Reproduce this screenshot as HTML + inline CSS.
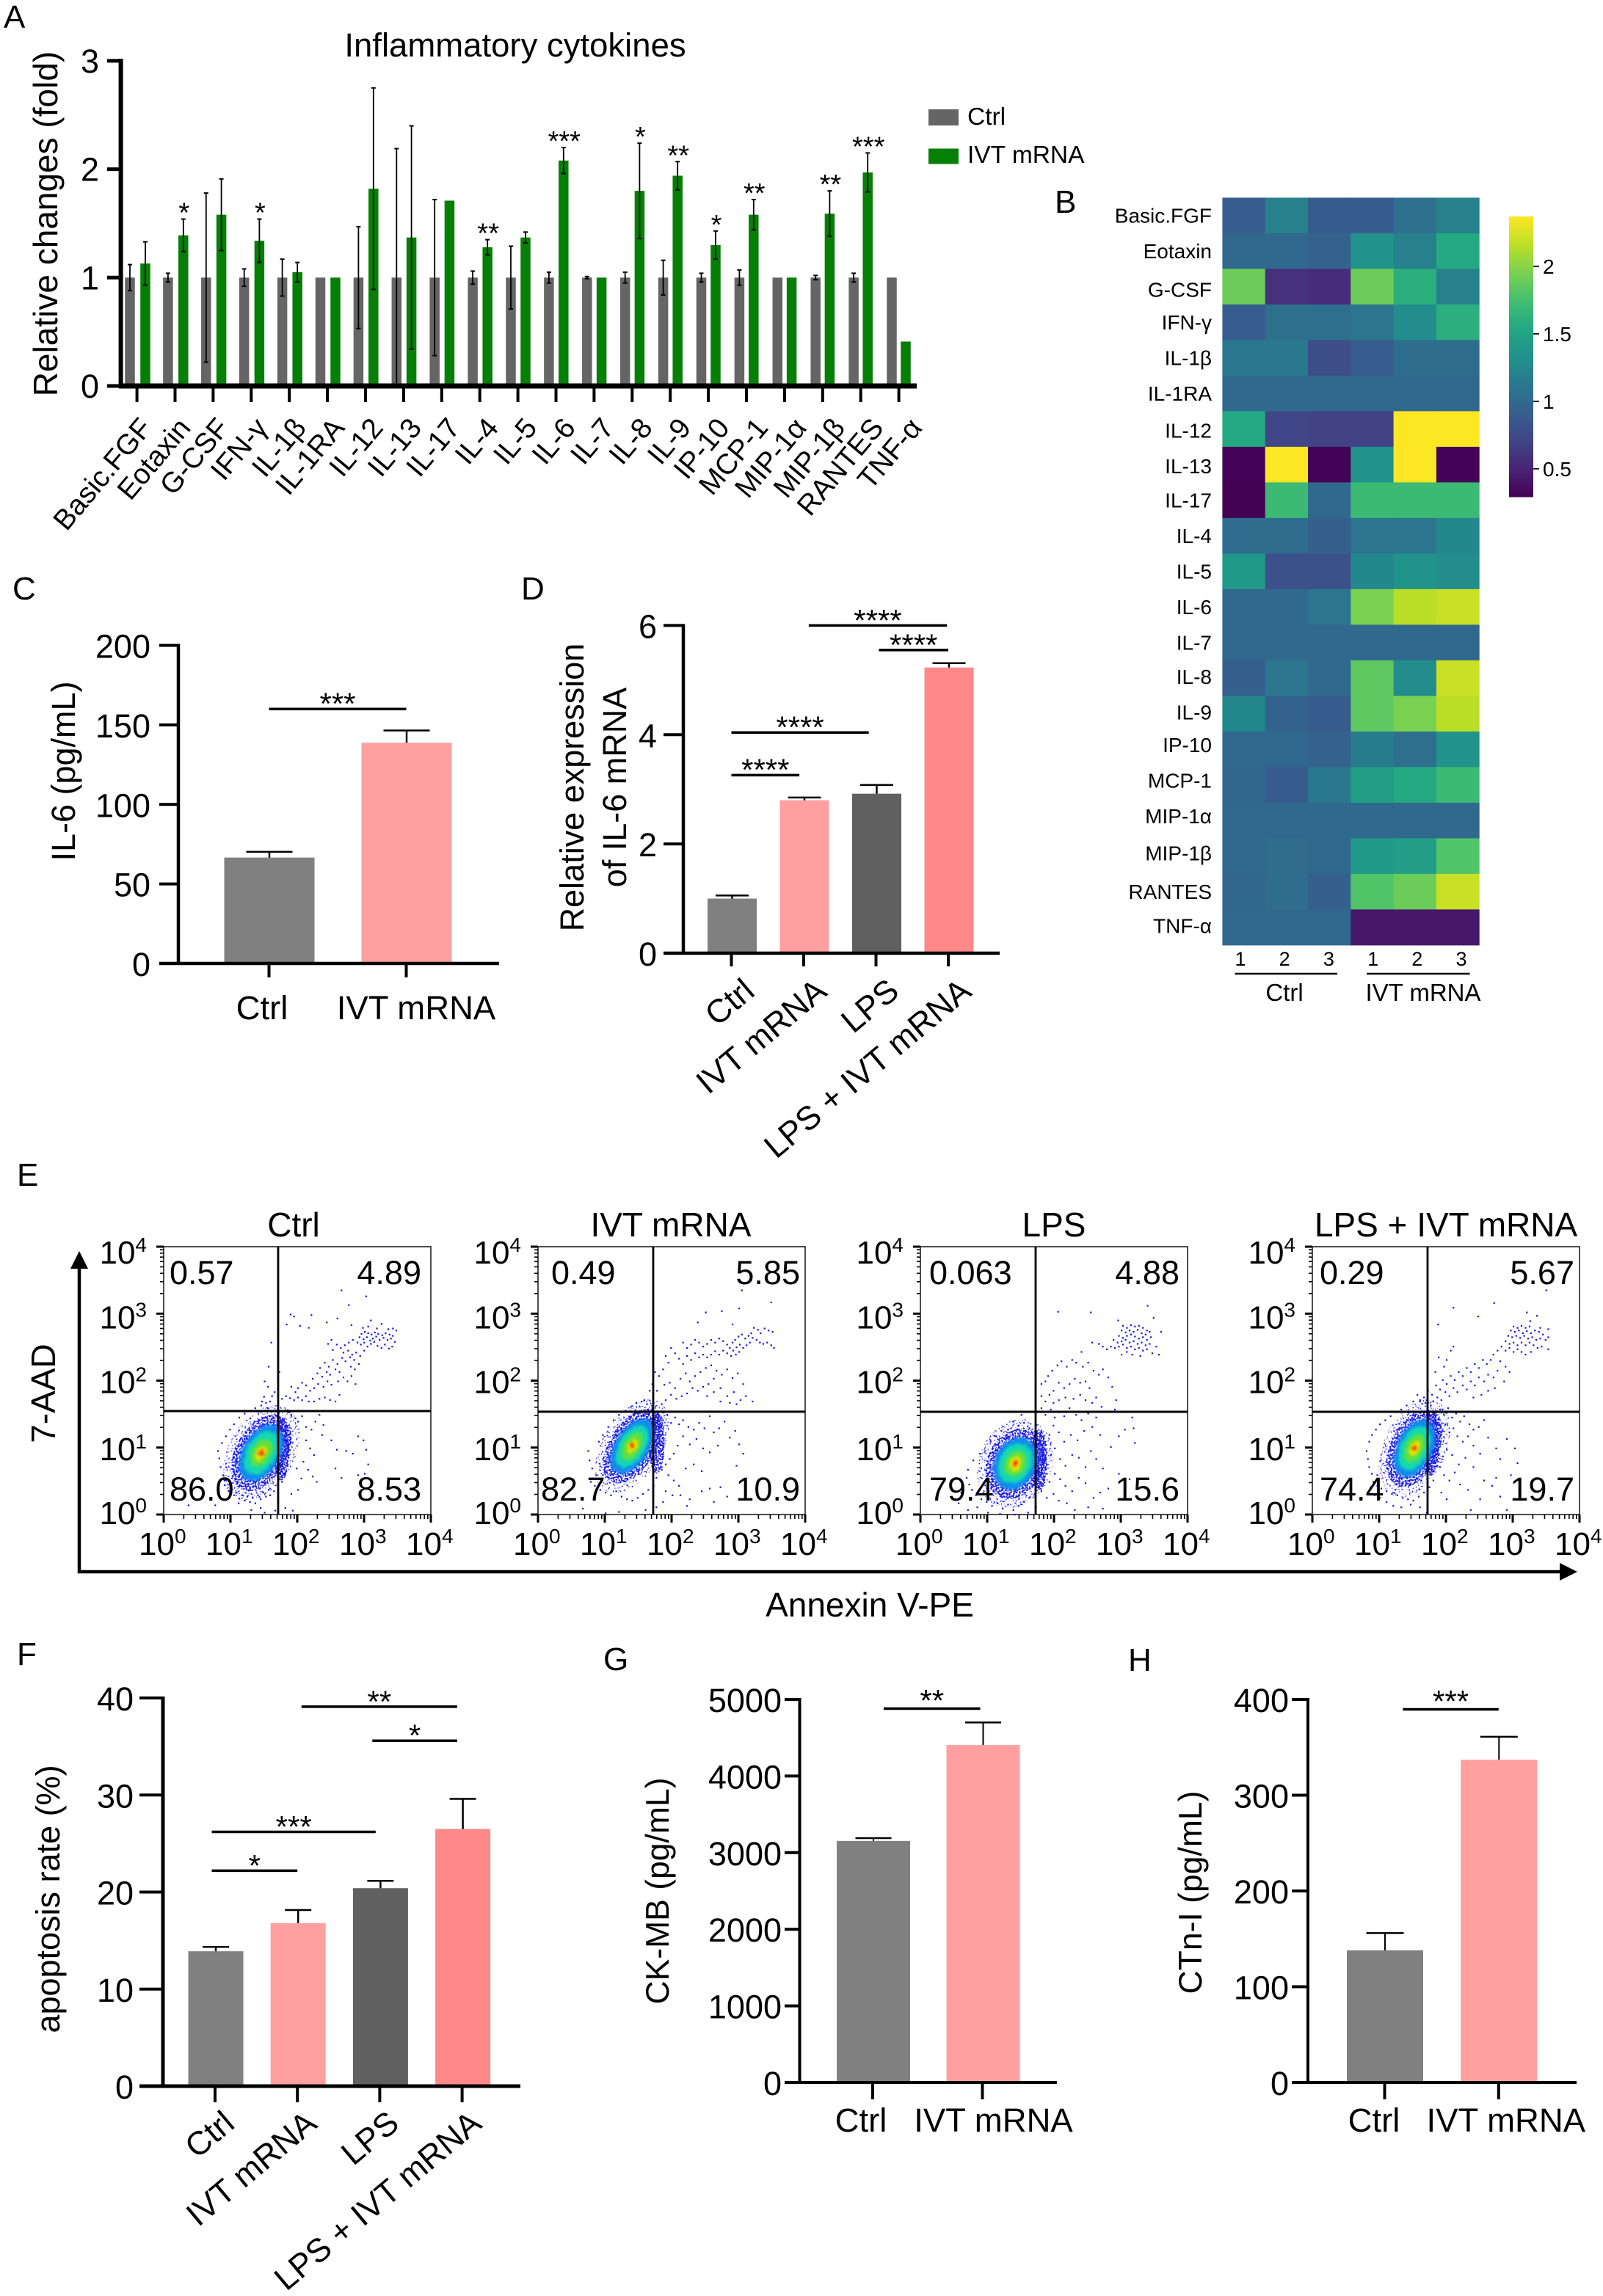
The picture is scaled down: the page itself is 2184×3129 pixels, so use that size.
<!DOCTYPE html>
<html lang="en">
<head>
<meta charset="utf-8">
<title>Inflammatory cytokine figure panels</title>
<style>
html,body{margin:0;padding:0;background:#fff;}
svg{display:block;font-family:"Liberation Sans","DejaVu Sans",sans-serif;}
</style>
</head>
<body>
<svg id="figure" xmlns="http://www.w3.org/2000/svg" width="2184" height="3129" viewBox="0 0 2184 3129"></svg>
<script>
/* ---------- Panel A data ---------- */
const aCategories = ['Basic.FGF','Eotaxin','G-CSF','IFN-γ','IL-1β','IL-1RA','IL-12','IL-13','IL-17','IL-4','IL-5','IL-6','IL-7','IL-8','IL-9','IP-10','MCP-1','MIP-1α','MIP-1β','RANTES','TNF-α'];
const aCtrlValues = [1,1,1,1,1,1,1,1,1,1,1,1,1,1,1,1,1,1,1,1,1];
const aCtrlErrors = [0.12,0.04,0.78,0.08,0.17,0,0.47,1.19,0.72,0.06,0.29,0.05,0.01,0.05,0.16,0.04,0.07,0,0.02,0.04,0];
const aIvtValues = [1.13,1.39,1.58,1.34,1.05,1,1.82,1.37,1.71,1.28,1.37,2.08,1,1.8,1.94,1.3,1.58,1,1.59,1.97,0.41];
const aIvtErrors = [0.2,0.15,0.33,0.2,0.09,0,0.93,1.03,0,0.07,0.05,0.12,0,0.44,0.13,0.13,0.14,0,0.21,0.18,0];
const aStars = ['','*','','*','','','','','','**','','***','','*','**','*','**','','**','***',''];
const aTicks = [0,1,2,3];

/* ---------- Panel B data ---------- */
const bRows = ['Basic.FGF','Eotaxin','G-CSF','IFN-γ','IL-1β','IL-1RA','IL-12','IL-13','IL-17','IL-4','IL-5','IL-6','IL-7','IL-8','IL-9','IP-10','MCP-1','MIP-1α','MIP-1β','RANTES','TNF-α'];
const bColumns = ['1','2','3','1','2','3'];
const bValues = [
[0.9,1.2,0.88,0.88,1.05,1.2],
[1.0,1.0,0.95,1.35,1.2,1.55],
[1.9,0.58,0.55,1.9,1.6,1.2],
[0.9,1.05,1.05,1.1,1.3,1.6],
[1.12,1.12,0.78,0.9,1.03,1.03],
[1,1,1,1,1,1],
[1.55,0.72,0.7,0.7,2.37,2.37],
[0.3,2.37,0.3,1.35,2.37,0.3],
[0.29,1.7,1,1.7,1.7,1.7],
[1.02,1.02,0.92,1.1,1.1,1.25],
[1.4,0.8,0.8,1.25,1.35,1.3],
[1,1,1.1,1.95,2.15,2.2],
[1,1,1,1,1,1],
[0.92,1.1,1,1.85,1.3,2.2],
[1.25,0.95,0.88,1.85,1.95,2.15],
[1,1,0.95,1.15,1.05,1.35],
[0.98,0.88,1.12,1.45,1.55,1.7],
[1,1,1,1,1,1],
[1,1.02,1,1.4,1.45,1.8],
[0.98,1.02,0.92,1.8,1.9,2.2],
[1,1,1,0.42,0.42,0.42]
];
const bScaleTicks = [0.5,1,1.5,2];
const viridisStops = ['#440154','#482475','#414487','#355f8d','#2a788e','#21918c','#22a884','#44bf70','#7ad151','#bddf26','#fde725'];

/* ---------- Panel C data ---------- */
const cCategories = ['Ctrl','IVT mRNA'];
const cValues = [66.6,138.8];
const cErrors = [3.6,7.7];
const cTicks = [0,50,100,150,200];
const cSigFrom = [0];
const cSigTo = [1];
const cSigLevel = [160];
const cSigLabel = ['***'];

/* ---------- Panel D data ---------- */
const dCategories = ['Ctrl','IVT mRNA','LPS','LPS + IVT mRNA'];
const dValues = [1.0,2.8,2.92,5.23];
const dErrors = [0.056,0.05,0.16,0.08];
const dTicks = [0,2,4,6];
const dSigFrom = [0,0,1.07,2.04];
const dSigTo = [0.94,1.9,2.98,3];
const dSigLevel = [3.26,4.04,6,5.55];
const dSigLabel = ['****','****','****','****'];

/* ---------- Panel E data (decades of log10 axes, ×100) ---------- */
const flowTitles = ['Ctrl','IVT mRNA','LPS','LPS + IVT mRNA'];
const flowUpperLeft = ['0.57','0.49','0.063','0.29'];
const flowUpperRight = ['4.89','5.85','4.88','5.67'];
const flowLowerLeft = ['86.0','82.7','79.4','74.4'];
const flowLowerRight = ['8.53','10.9','15.6','19.7'];
const flowGateX = [1.714,1.725,1.725,1.725];
const flowGateY = [1.545,1.535,1.534,1.534];
const flowBlobX = [1.46,1.41,1.42,1.53];
const flowBlobY = [0.92,1.02,0.76,0.99];
const flowBlobMajor = [0.62,0.62,0.55,0.62];
const flowBlobMinor = [0.38,0.34,0.42,0.36];
const flowBlobAngle = [60,58,65,65];
const flowTickDecades = [0,1,2,3,4];
const flowCtrlDots = [265,336,302,327,276,314,189,300,194,297,220,299,259,294,243,288,309,291,325,286,183,285,203,283,216,280,280,284,297,280,305,282,318,279,335,278,342,279,347,276,
295,271,300,274,305,272,310,270,315,273,320,271,326,269,331,272,337,270,342,268,292,266,298,263,303,266,308,261,312,264,317,267,322,262,328,265,334,262,339,264,345,259,289,258,294,255,299,258,304,252,309,256,314,259,319,253,325,250,330,255,336,249,341,252,
282,262,276,258,270,254,264,250,258,255,250,262,245,256,252,247,268,243,275,246,281,240,287,243,293,238,299,246,284,232,278,236,271,230,266,235,259,226,252,232,246,222,240,228,233,220,279,222,285,218,291,226,262,214,256,218,248,210,243,214,236,207,229,212,222,204,268,206,274,200,280,208,286,196,260,200,250,195,244,200,238,192,230,196,224,190,218,186,212,194,206,198,200,190,196,184,190,192,172,214,170,190,165,184,161,178,155,192,150,200,149,177,146,170,152,168,158,170,170,172,176,174,182,178,188,175,194,172,200,176,206,172,212,178,216,170,224,170,232,174,240,176,248,172,256,170,262,180,
190,150,196,145,200,140,206,148,212,132,220,128,226,140,232,150,238,135,212,112,218,100,224,90,236,120,250,112,258,98,272,96,282,92,256,70,265,56,290,60,300,62,290,118,298,112,302,98,305,76,208,80,215,68,222,58,228,50,205,55,200,38,190,32,198,70,160,258,156,222,
90,45,96,36,104,30,112,25,120,22,128,20,136,18,144,24,152,28,88,60,84,72,92,52,100,42,108,34,116,30,124,28,132,26,140,30,148,34,156,38,82,85,80,96,86,108,92,118,98,128,104,136,112,146,120,152,128,156,136,160,145,164,155,160,165,155,172,146,176,130,180,118,184,104,186,90,184,74,180,62,176,50,170,44,164,36,158,30,36,15,76,15,111,18,144,11,166,7,181,11,192,7,150,4,130,8];
const flowIvtDots = [304,336,348,318,300,309,274,305,250,303,238,288,290,285,
322,280,328,277,332,272,338,279,344,276,350,274,318,272,314,268,309,264,304,270,299,267,294,262,290,258,320,265,326,262,331,258,336,256,342,258,348,254,352,250,316,258,311,254,306,250,301,255,296,251,291,246,286,250,282,255,276,260,270,264,264,258,258,262,252,256,246,252,240,258,234,262,228,255,222,250,216,258,300,244,295,240,288,238,282,242,276,246,270,240,264,245,258,240,252,236,246,240,240,236,234,242,228,232,222,238,216,226,210,234,204,242,198,250,194,228,190,238,186,218,180,208,174,214,170,196,166,186,177,186,188,195,196,198,204,190,212,204,220,212,226,200,234,208,242,214,250,220,258,224,266,216,274,210,282,218,290,205,298,212,306,196,262,204,254,196,246,192,238,186,230,190,222,182,214,178,206,174,198,180,190,172,184,166,252,178,262,184,272,190,282,178,292,184,302,172,310,178,320,170,296,166,286,168,272,170,
180,148,186,142,192,150,198,138,204,146,210,136,216,142,224,132,232,128,240,138,248,130,256,148,262,124,270,130,278,140,286,116,294,126,300,106,306,92,268,104,256,94,246,100,236,114,226,106,216,118,208,104,202,92,196,84,190,76,184,68,194,60,202,52,210,44,220,70,232,76,244,66,256,40,272,42,282,28,262,20,244,36,226,24,212,30,200,30,190,36,186,20,222,14,296,74,
86,60,80,70,76,82,74,96,78,50,84,44,92,38,100,34,108,30,116,36,124,28,132,24,140,22,148,26,156,32,164,38,172,44,176,56,96,60,90,110,96,120,104,132,112,142,120,150,130,156,138,162,146,168,154,170,162,166,170,160,176,150,180,136,184,120,186,104,186,88,184,72,158,172,142,150,66,10,100,3,120,5,160,8,176,12,140,60];
const flowLpsDots = [205,304,254,303,339,313,348,295,295,291,359,274,
302,283,308,280,314,284,320,282,326,283,332,280,338,276,300,276,306,273,312,276,318,274,324,277,330,272,336,270,342,274,296,268,302,265,308,268,314,270,320,267,326,264,332,266,338,262,344,266,288,262,294,258,300,260,306,262,312,258,318,260,324,256,330,258,336,254,342,256,352,252,284,252,290,250,296,252,302,255,308,250,314,252,320,248,326,250,332,246,338,248,346,242,356,240,278,248,272,252,266,256,256,258,300,240,308,244,316,240,328,238,
240,244,232,228,226,232,218,222,210,230,204,224,196,216,190,208,186,200,180,196,242,222,250,228,258,216,266,210,272,218,280,206,246,200,252,190,238,198,230,204,222,196,214,190,206,198,198,186,192,180,186,170,180,178,198,168,206,172,216,176,228,174,238,180,246,172,256,168,262,176,286,192,292,172,
180,160,186,150,194,158,200,146,206,154,214,148,222,160,232,150,240,142,250,152,262,146,270,162,290,158,302,154,316,146,318,130,320,108,305,128,296,118,284,102,268,120,256,132,244,126,234,112,224,120,214,110,206,124,198,134,192,120,186,110,180,124,176,100,182,88,188,76,194,90,200,100,208,84,216,74,226,90,236,86,246,72,254,96,262,84,272,70,184,58,192,50,200,62,208,54,216,44,226,36,236,56,246,48,258,26,268,34,280,40,296,62,312,54,180,36,188,26,198,32,206,22,218,18,230,8,250,12,272,10,
72,46,68,56,70,68,76,38,82,30,90,24,98,20,106,14,114,18,122,10,130,16,138,8,146,14,154,20,162,26,170,32,176,44,178,58,180,72,170,120,162,130,154,138,146,134,138,140,130,128,120,126,112,118,104,110,96,96,88,92,78,82,60,34,56,18,70,8,84,12,100,4,118,2,140,1,160,4,172,12,150,150,144,112,176,106];
const flowLpsIvtDots = [349,336,271,317,210,310,247,297,187,285,320,303,335,298,325,290,340,280,352,278,
300,282,306,280,312,283,318,280,324,282,296,276,302,274,308,276,314,272,320,275,326,272,332,276,338,274,344,270,292,268,298,266,304,268,310,265,316,268,322,264,328,266,334,262,340,264,348,262,352,266,288,260,294,256,300,258,306,254,312,258,318,254,324,258,330,254,336,250,342,252,282,252,288,246,294,250,300,244,306,248,312,244,318,240,326,244,352,248,
276,246,270,240,266,232,260,226,254,232,248,220,242,226,236,214,230,220,224,208,218,214,212,202,206,208,200,196,194,202,190,188,184,194,178,180,172,186,166,176,160,170,156,180,280,230,288,222,294,214,276,216,270,206,262,210,256,200,248,206,242,194,236,200,230,188,224,194,216,184,210,190,204,178,198,184,192,172,186,176,180,170,172,168,252,180,262,186,272,190,240,176,286,200,200,232,206,246,210,252,196,222,188,236,183,214,
190,158,196,150,202,160,208,146,214,152,220,140,226,148,234,136,240,128,248,132,256,142,210,130,204,124,198,136,192,124,216,118,224,110,232,118,240,104,250,92,262,116,274,100,280,84,290,114,302,100,306,78,296,60,274,56,256,52,240,72,228,86,218,76,208,90,200,98,194,88,190,72,196,60,204,52,212,64,220,46,232,38,250,24,268,44,280,28,290,8,236,8,200,24,192,34,
88,62,84,72,82,84,80,96,84,110,88,120,94,128,100,136,108,142,116,148,124,154,132,158,140,164,150,170,160,172,168,168,176,164,182,152,186,138,188,122,190,106,188,90,186,74,90,50,96,44,102,40,110,36,118,32,126,30,134,26,142,24,150,22,158,28,166,34,174,42,180,52,86,42,92,30,100,26,110,20,120,14,132,12,146,16,160,12,170,4,96,60];
const flowDensityLevels = [0.74,0.57,0.37,0.2,0.08];

/* ---------- Panel F data ---------- */
const fCategories = ['Ctrl','IVT mRNA','LPS','LPS + IVT mRNA'];
const fValues = [13.9,16.8,20.4,26.5];
const fErrors = [0.45,1.35,0.75,3.1];
const fTicks = [0,10,20,30,40];
const fSigFrom = [-0.04,-0.04,1.05,1.91];
const fSigTo = [1,1.95,2.94,2.94];
const fSigLevel = [22.2,26.2,39.1,35.6];
const fSigLabel = ['*','***','**','*'];

/* ---------- Panel G data ---------- */
const gCategories = ['Ctrl','IVT mRNA'];
const gValues = [3153,4405];
const gErrors = [37,295];
const gTicks = [0,1000,2000,3000,4000,5000];
const gSigFrom = [0.1];
const gSigTo = [0.98];
const gSigLevel = [4880];
const gSigLabel = ['**'];

/* ---------- Panel H data ---------- */
const hCategories = ['Ctrl','IVT mRNA'];
const hValues = [138,337];
const hErrors = [18,24];
const hTicks = [0,100,200,300,400];
const hSigFrom = [0.16];
const hSigTo = [1];
const hSigLevel = [389.7];
const hSigLabel = ['***'];

/* ---------- Drawing helpers ---------- */
const NS = 'http://www.w3.org/2000/svg';
const root = document.getElementById('figure');

function node(tag, attrs, name, parent) {
  const el = document.createElementNS(NS, tag);
  for (const k in attrs) el.setAttribute(k, attrs[k]);
  
  
  (parent || root).appendChild(el);
  return el;
}
function group(name, parent) { return node('g', {}, name, parent); }
function line(x1, y1, x2, y2, w, name, parent, color) {
  return node('line', {x1:x1, y1:y1, x2:x2, y2:y2, stroke:color || '#000', 'stroke-width':w}, name, parent);
}
function rect(x, y, w, h, fill, name, parent) {
  return node('rect', {x:x, y:y, width:w, height:h, fill:fill}, name, parent);
}
function label(x, y, str, size, name, parent, anchor, rot) {
  const attrs = {x:x, y:y, 'font-size':size, 'text-anchor':anchor || 'start', fill:'#000'};
  if (rot) attrs.transform = 'rotate(' + rot + ' ' + x + ' ' + y + ')';
  const el = node('text', attrs, name, parent);
  el.textContent = str;
  return el;
}
function starLabel(cx, cy, str, size, name, parent) {
  return label(cx, cy + 0.58 * size, str, size, name, parent, 'middle');
}

/* Panel letters */
[['A',5,38],['B',1437,290],['C',17,817],['D',710,817],['E',23,1616],['F',23,2269],['G',822,2276],['H',1537,2277]].forEach(function (p) {
  label(p[1], p[2], p[0], 44, 'panel-letter-' + p[0].toLowerCase());
});

/* ---------- Panel A ---------- */
(function () {
  const g = group('panel-a-grouped-bar-chart');
  const y0 = 526, unit = 147.7;
  const y = function (v) { return y0 - v * unit; };
  const tickX = function (i) { return 186.6 + i * 51.9; };
  const ctrlX = function (i) { return 177 + i * 51.9; };
  const ivtX = function (i) { return 198 + i * 51.8; };
  const labelX = function (i) { return 209 + i * 52.45; };
  const barW = 13.5;
  label(702, 77, 'Inflammatory cytokines', 45.5, 'chart-title', g, 'middle');
  aCategories.forEach(function (c, i) {
    rect(ctrlX(i) - barW / 2, y(aCtrlValues[i]), barW, y0 - y(aCtrlValues[i]), '#656565', 'bar-ctrl-' + c, g);
    rect(ivtX(i) - barW / 2, y(aIvtValues[i]), barW, y0 - y(aIvtValues[i]), '#067f06', 'bar-ivt-' + c, g);
    [[ctrlX(i), aCtrlValues[i], aCtrlErrors[i]], [ivtX(i), aIvtValues[i], aIvtErrors[i]]].forEach(function (s) {
      if (s[2] > 0) {
        const lower = Math.max(0, s[1] - s[2]);
        line(s[0], y(s[1] + s[2]), s[0], y(lower), 1.8, 'error-bar', g);
        line(s[0] - 3, y(s[1] + s[2]), s[0] + 3, y(s[1] + s[2]), 2, 'error-cap', g);
        line(s[0] - 3, y(lower), s[0] + 3, y(lower), 2, 'error-cap', g);
      }
    });
    if (aStars[i]) starLabel(ivtX(i) + 1, y(aIvtValues[i] + aIvtErrors[i]) - 18, aStars[i], 38, 'significance-' + c, g);
    line(tickX(i), y0, tickX(i), 548, 4, 'x-tick', g);
    label(labelX(i), 584, c, 39, 'x-label-' + c, g, 'end', -50);
  });
  line(164.6, 80, 164.6, y0 + 3, 6, 'y-axis', g);
  line(162, y0, 1249, y0, 7, 'x-axis', g);
  aTicks.forEach(function (t) {
    line(146, y(t), 165, y(t), 5, 'y-tick', g);
    label(135, y(t) + 16, String(t), 45, 'y-tick-label-' + t, g, 'end');
  });
  label(78, 305, 'Relative changes (fold)', 46, 'y-axis-title', g, 'middle', -90);
  rect(1265, 149, 41, 22, '#656565', 'legend-swatch-ctrl', g);
  label(1318, 170, 'Ctrl', 33.5, 'legend-label-ctrl', g);
  rect(1265, 202.5, 41, 21, '#067f06', 'legend-swatch-ivt', g);
  label(1318, 222, 'IVT mRNA', 33.5, 'legend-label-ivt', g);
})();

/* ---------- Panel B ---------- */
function viridis(t) {
  const c = Math.max(0, Math.min(1, t)) * (viridisStops.length - 1);
  const i = Math.min(Math.floor(c), viridisStops.length - 2);
  const f = c - i;
  const a = viridisStops[i], b = viridisStops[i + 1];
  const out = [1, 3, 5].map(function (p) {
    const va = parseInt(a.substr(p, 2), 16), vb = parseInt(b.substr(p, 2), 16);
    return Math.round(va + (vb - va) * f);
  });
  return 'rgb(' + out.join(',') + ')';
}
(function () {
  const g = group('panel-b-heatmap');
  const left = 1665.4, top = 269.4, cw = 58.3, ch = 48.5;
  const vMin = 0.29, vMax = 2.37;
  const rowNudge = [0,0,4,0,0,0,2,2,0,0,0,0,0,-2,-2,-6,-6,-6,-4,0,-2];
  bValues.forEach(function (row, r) {
    row.forEach(function (v, c) {
      rect(left + c * cw, top + r * ch, cw + 0.5, ch + 0.5, viridis((v - vMin) / (vMax - vMin)), 'heatmap-cell-' + bRows[r] + '-' + (c + 1), g);
    });
    label(1651, top + (r + 0.5) * ch + 10 + rowNudge[r], bRows[r], 28, 'row-label-' + bRows[r], g, 'end');
  });
  bColumns.forEach(function (c, i) {
    label(1690 + i * 60.2, 1316, c, 27, 'column-label-' + (i + 1), g, 'middle');
  });
  line(1682.6, 1327, 1822, 1327, 2.5, 'group-line-ctrl', g);
  line(1862, 1327, 2002.6, 1327, 2.5, 'group-line-ivt', g);
  label(1750, 1364, 'Ctrl', 33, 'group-label-ctrl', g, 'middle');
  label(1939, 1364, 'IVT mRNA', 33, 'group-label-ivt', g, 'middle');
  const defs = node('defs', {}, 'colorbar-defs', g);
  const grad = node('linearGradient', {id:'viridisBar', x1:0, y1:1, x2:0, y2:0}, 'colorbar-gradient', defs);
  viridisStops.forEach(function (col, i) {
    node('stop', {offset:i / (viridisStops.length - 1), 'stop-color':col}, 'colorbar-stop', grad);
  });
  const barTop = 295, barBottom = 677.5;
  const sy = function (v) { return barBottom - (v - vMin) / (vMax - vMin) * (barBottom - barTop); };
  rect(2056, barTop, 33, barBottom - barTop, 'url(#viridisBar)', 'colorbar', g);
  bScaleTicks.forEach(function (t) {
    line(2089, sy(t), 2097, sy(t), 2, 'colorbar-tick', g, '#222');
    label(2102, sy(t) + 10, String(t), 28, 'colorbar-label-' + t, g);
  });
})();

/* ---------- Single-series bar panels ---------- */
function barPanel(o) {
  const g = group(o.name);
  const y = function (v) { return o.yZero - v / o.vMax * (o.yZero - o.yTop); };
  const x = function (i) { return o.x0 + i * o.step; };
  o.categories.forEach(function (c, i) {
    rect(x(i) - o.barW / 2 + (o.barShift || 0), y(o.values[i]), o.barW, o.yZero - y(o.values[i]), o.colors[i], 'bar-' + c.replace(/ /g, ''), g);
    const cx = x(i) + (o.barShift || 0);
    line(cx, y(o.values[i]), cx, y(o.values[i] + o.errors[i]), o.errW, 'error-bar', g);
    line(cx - o.capW / 2, y(o.values[i] + o.errors[i]), cx + o.capW / 2, y(o.values[i] + o.errors[i]), 2.5, 'error-cap', g);
    line(x(i), o.yZero, x(i), o.tickEnd, 4, 'x-tick', g);
    if (o.rotated) {
      label(x(i) + o.labelDx, o.labelY, c, o.labelSize, 'x-label-' + c.replace(/ /g, ''), g, 'end', -40);
    } else {
      label(x(i) + o.labelOffsets[i], o.labelY, c, o.labelSize, 'x-label-' + c.replace(/ /g, ''), g, 'middle');
    }
  });
  line(o.axisX, o.yTop - 2, o.axisX, o.yZero + 2, o.axisW, 'y-axis', g);
  line(o.tickLeft, o.yZero, o.xEnd, o.yZero, o.axisW, 'x-axis', g);
  o.ticks.forEach(function (t) {
    line(o.tickLeft, y(t), o.axisX, y(t), 4, 'y-tick', g);
    label(o.labelRight, y(t) + 17, String(t), o.tickSize, 'y-tick-label-' + t, g, 'end');
  });
  o.sigFrom.forEach(function (f, i) {
    const a = x(f), b = x(o.sigTo[i]), ly = y(o.sigLevel[i]);
    line(a, ly, b, ly, 3.5, 'significance-bracket', g);
    starLabel((a + b) / 2, ly - o.starGap, o.sigLabel[i], 42, 'significance-label', g);
  });
  o.titles.forEach(function (t) {
    label(t[1], t[2], t[0], o.titleSize, 'y-axis-title', g, 'middle', -90);
  });
}

barPanel({name:'panel-c-bar-chart', categories:cCategories, values:cValues, errors:cErrors, ticks:cTicks,
  sigFrom:cSigFrom, sigTo:cSigTo, sigLevel:cSigLevel, sigLabel:cSigLabel,
  colors:['#808080','#ff9f9f'], yZero:1313, yTop:879.5, vMax:200, x0:366.5, step:187, barW:123, capW:63, errW:2.5, barShift:0.5,
  axisX:243, axisW:4.5, tickLeft:217, xEnd:680, tickEnd:1332, labelRight:205, tickSize:45,
  labelY:1389, labelSize:45.5, labelOffsets:[-9.5,13.5], starGap:17,
  titles:[['IL-6 (pg/mL)',102,1051]], titleSize:45});

barPanel({name:'panel-d-bar-chart', categories:dCategories, values:dValues, errors:dErrors, ticks:dTicks,
  sigFrom:dSigFrom, sigTo:dSigTo, sigLevel:dSigLevel, sigLabel:dSigLabel,
  colors:['#808080','#ff9f9f','#606060','#ff8888'], yZero:1299, yTop:852.4, vMax:6, x0:996.5, step:98.5, barW:67, capW:45, errW:2.5, barShift:1,
  axisX:931, axisW:4.5, tickLeft:904, xEnd:1362, tickEnd:1317, labelRight:895, tickSize:45,
  rotated:true, labelDx:34, labelY:1355, labelSize:45, starGap:17,
  titles:[['Relative expression',795,1073],['of IL-6 mRNA',853,1073]], titleSize:45});

barPanel({name:'panel-f-bar-chart', categories:fCategories, values:fValues, errors:fErrors, ticks:fTicks,
  sigFrom:fSigFrom, sigTo:fSigTo, sigLevel:fSigLevel, sigLabel:fSigLabel,
  colors:['#808080','#ff9f9f','#606060','#ff8888'], yZero:2843, yTop:2314, vMax:40, x0:293, step:112.2, barW:75, capW:36, errW:2.5, barShift:1,
  axisX:222, axisW:5, tickLeft:190, xEnd:709, tickEnd:2865, labelRight:182, tickSize:45,
  rotated:true, labelDx:29, labelY:2898, labelSize:45, starGap:17,
  titles:[['apoptosis rate (%)',81,2588]], titleSize:45});

barPanel({name:'panel-g-bar-chart', categories:gCategories, values:gValues, errors:gErrors, ticks:gTicks,
  sigFrom:gSigFrom, sigTo:gSigTo, sigLevel:gSigLevel, sigLabel:gSigLabel,
  colors:['#808080','#ff9f9f'], yZero:2838, yTop:2316, vMax:5000, x0:1189, step:149.5, barW:100, capW:49, errW:2, barShift:1,
  axisX:1089.5, axisW:4, tickLeft:1069, xEnd:1440, tickEnd:2861, labelRight:1065, tickSize:45,
  labelY:2905, labelSize:45.5, labelOffsets:[-16,15], starGap:21,
  titles:[['CK-MB (pg/mL)',911,2577]], titleSize:44.5});

barPanel({name:'panel-h-bar-chart', categories:hCategories, values:hValues, errors:hErrors, ticks:hTicks,
  sigFrom:hSigFrom, sigTo:hSigTo, sigLevel:hSigLevel, sigLabel:hSigLabel,
  colors:['#808080','#ff9f9f'], yZero:2838, yTop:2316, vMax:400, x0:1886.5, step:155.3, barW:104, capW:51, errW:2, barShift:0.5,
  axisX:1782, axisW:4, tickLeft:1760, xEnd:2148, tickEnd:2861, labelRight:1756, tickSize:45,
  labelY:2905, labelSize:45.5, labelOffsets:[-14.5,10], starGap:21,
  titles:[['CTn-I (pg/mL)',1637,2579]], titleSize:44.5});

/* ---------- Panel E ---------- */
const flowDefs = node('defs', {}, 'flow-defs');
function speckleFilter(id, threshold, freq) {
  const f = node('filter', {id:id, x:'-20%', y:'-20%', width:'140%', height:'140%', 'color-interpolation-filters':'sRGB'}, 'flow-speckle-filter', flowDefs);
  node('feTurbulence', {type:'fractalNoise', baseFrequency:freq, numOctaves:1, seed:7, result:'noise'}, 'flow-noise', f);
  node('feColorMatrix', {in:'noise', type:'matrix', values:'0 0 0 0 0 0 0 0 0 0 0 0 0 0 0 9 0 0 0 ' + threshold, result:'mask'}, 'flow-threshold', f);
  node('feComposite', {in:'SourceGraphic', in2:'mask', operator:'in'}, 'flow-composite', f);
}
speckleFilter('flowSparse', -5.1, 0.42);
speckleFilter('flowDense', -3.9, 0.42);
const flowBlur = node('filter', {id:'flowSoft', x:'-30%', y:'-30%', width:'160%', height:'160%', 'color-interpolation-filters':'sRGB'}, 'flow-blur-filter', flowDefs);
node('feTurbulence', {type:'fractalNoise', baseFrequency:0.3, numOctaves:2, seed:4, result:'noise'}, 'flow-soft-noise', flowBlur);
node('feDisplacementMap', {in:'SourceGraphic', in2:'noise', scale:9, xChannelSelector:'R', yChannelSelector:'G', result:'moved'}, 'flow-displace', flowBlur);
node('feGaussianBlur', {in:'moved', stdDeviation:1.6}, 'flow-blur', flowBlur);

function powerLabel(x, y, exp, anchor, name, parent) {
  const t = node('text', {x:x, y:y, 'font-size':44, 'text-anchor':anchor, fill:'#000'}, name, parent);
  t.appendChild(document.createTextNode('10'));
  const s = node('tspan', {dy:-16, 'font-size':28}, 'tick-exponent', t);
  s.textContent = String(exp);
}

function flowPanel(i, boxL, dots, name) {
  const g = group(name);
  const boxW = 364, boxBottom = 2064, decX = 91, decY = 91.25;
  const x = function (v) { return boxL + v * decX; };
  const y = function (v) { return boxBottom - v * decY; };
  node('rect', {x:boxL, y:y(4), width:boxW, height:boxBottom - y(4), fill:'#fff', stroke:'#222', 'stroke-width':1.6}, 'plot-frame', g);
  for (let p = 0; p + 1 < dots.length; p += 2) {
    rect(x(dots[p] / 100), y(dots[p + 1] / 100), 2.2, 2.2, '#1414e0', 'event-dot', g);
  }
  const bx = x(flowBlobX[i]), by = y(flowBlobY[i]);
  const turn = 'rotate(' + (-flowBlobAngle[i]) + ' ' + bx + ' ' + by + ')';
  const maj = flowBlobMajor[i] * decX, min = flowBlobMinor[i] * decY;
  node('ellipse', {cx:bx, cy:by, rx:maj * 1.25, ry:min * 1.3, fill:'#1a1ae6', transform:turn, filter:'url(#flowSparse)'}, 'density-halo', g);
  node('ellipse', {cx:bx, cy:by, rx:maj * 1.0, ry:min * 1.0, fill:'#1a1ae6', transform:turn, filter:'url(#flowDense)'}, 'density-outer', g);
  node('ellipse', {cx:x(flowGateX[i] + 0.05), cy:y(flowBlobY[i] + 0.05), rx:0.12 * decX, ry:0.46 * decY, fill:'#1a1ae6', filter:'url(#flowDense)'}, 'density-gate-edge', g);
  const densityColors = ['#0f8cf0','#14d8b0','#5ee040','#e4e000','#ff7a00'];
  const blob = group('density-core', g);
  blob.setAttribute('filter', 'url(#flowSoft)');
  flowDensityLevels.forEach(function (lv, k) {
    node('ellipse', {cx:bx, cy:by, rx:maj * lv, ry:min * lv, fill:densityColors[k], transform:turn}, 'density-level-' + (k + 1), blob);
  });
  node('ellipse', {cx:bx, cy:by, rx:maj * 0.04, ry:min * 0.1, fill:'#ee1c00'}, 'density-peak', blob);
  const gx = x(flowGateX[i]), gy = y(flowGateY[i]);
  line(gx, y(4), gx, boxBottom, 2.8, 'quadrant-gate-vertical', g);
  line(boxL, gy, boxL + boxW, gy, 3, 'quadrant-gate-horizontal', g);
  flowTickDecades.forEach(function (d) {
    const off = [13, 17, 17, 20, 23][d];
    line(boxL - 10, y(d), boxL, y(d), 3, 'y-major-tick', g);
    line(x(d), boxBottom, x(d), boxBottom + 11, 3, 'x-major-tick', g);
    powerLabel(boxL - 23, y(d) + off, d, 'end', 'y-tick-label-1e' + d, g);
    powerLabel(x(d) - 34, 2119, d, 'start', 'x-tick-label-1e' + d, g);
    if (d < 4) {
      for (let k = 2; k < 10; k++) {
        line(boxL - 5, y(d + Math.log10(k)), boxL, y(d + Math.log10(k)), 1.6, 'y-minor-tick', g);
        line(x(d + Math.log10(k)), boxBottom, x(d + Math.log10(k)), boxBottom + 6, 1.6, 'x-minor-tick', g);
      }
    }
  });
  const centers = [400, 914, 1436, 1970];
  label(centers[i], 1685, flowTitles[i], 46, 'flow-title-' + (i + 1), g, 'middle');
  const pad = [8, 18, 12, 10][i], padLow = [8, 4, 12, 10][i], padR = [13, 7, 11, 7][i];
  label(boxL + pad, 1750, flowUpperLeft[i], 45, 'quadrant-upper-left', g);
  label(boxL + boxW - padR, 1750, flowUpperRight[i], 45, 'quadrant-upper-right', g, 'end');
  label(boxL + padLow, 2045, flowLowerLeft[i], 45, 'quadrant-lower-left', g);
  label(boxL + boxW - padR, 2045, flowLowerRight[i], 45, 'quadrant-lower-right', g, 'end');
}
flowPanel(0, 223, flowCtrlDots, 'panel-e-flow-ctrl');
flowPanel(1, 733, flowIvtDots, 'panel-e-flow-ivt');
flowPanel(2, 1254, flowLpsDots, 'panel-e-flow-lps');
flowPanel(3, 1788, flowLpsIvtDots, 'panel-e-flow-lps-ivt');

(function () {
  const g = group('panel-e-shared-axes');
  line(108, 1725, 108, 2144, 4.5, 'shared-y-arrow-line', g);
  node('polygon', {points:'108,1705 96,1729 120,1729', fill:'#000'}, 'shared-y-arrowhead', g);
  line(106, 2142, 2128, 2142, 4.5, 'shared-x-arrow-line', g);
  node('polygon', {points:'2149,2142 2125,2130 2125,2154', fill:'#000'}, 'shared-x-arrowhead', g);
  label(75, 1899, '7-AAD', 46, 'shared-y-title', g, 'middle', -90);
  label(1185, 2203, 'Annexin V-PE', 46, 'shared-x-title', g, 'middle');
})();
</script>
</body>
</html>
